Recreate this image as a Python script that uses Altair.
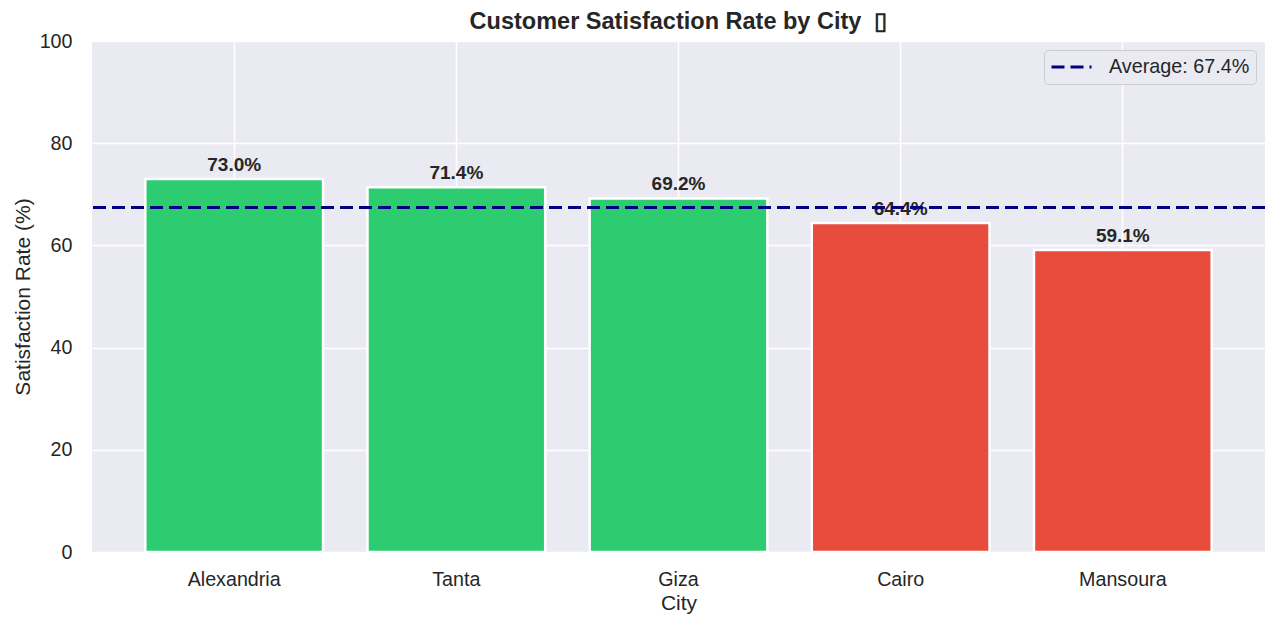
import altair as alt
import pandas as pd

cities = ["Alexandria", "Tanta", "Giza", "Cairo", "Mansoura"]
rates = [73.0, 71.4, 69.2, 64.4, 59.1]
average = 67.4
above_color = "#2ecc71"
below_color = "#e74c3c"

df = pd.DataFrame({
    "City": cities,
    "Rate": rates,
    "Label": [f"{r:.1f}%" for r in rates],
    "Color": [above_color if r >= average else below_color for r in rates],
})
avg_df = pd.DataFrame({"Rate": [average], "Series": [f"Average: {average:.1f}%"]})

FONT = "Liberation Sans"
TXT = "#262626"

x_enc = alt.X(
    "City:N", sort=cities, title="City",
    scale=alt.Scale(paddingInner=0.2, paddingOuter=0.24),
    axis=alt.Axis(labelAngle=0, labelFontSize=19.7, labelPadding=33, labelBaseline="alphabetic",
                  titleFontSize=21, titleFontWeight="normal", titleY=57, titleBaseline="alphabetic",
                  tickSize=0, domain=False, grid=True, gridColor="white", gridWidth=1.5,
                  bandPosition=0.5, labelColor=TXT, titleColor=TXT, labelFont=FONT, titleFont=FONT),
)
y_enc = alt.Y(
    "Rate:Q", title="Satisfaction Rate (%)",
    scale=alt.Scale(domain=[0, 100], nice=False, zero=True),
    axis=alt.Axis(values=[0, 20, 40, 60, 80, 100], labelFontSize=19.7, labelPadding=20,
                  titleFontSize=21, titleFontWeight="normal", titleX=-62.5, titleY=255.5,
                  titleBaseline="alphabetic", tickSize=0, domain=False, grid=True,
                  gridColor="white", gridWidth=1.5, labelColor=TXT, titleColor=TXT,
                  labelFont=FONT, titleFont=FONT),
)

bars = alt.Chart(df).mark_bar(stroke="white", strokeWidth=2.5).encode(
    x=x_enc, y=y_enc, color=alt.Color("Color:N", scale=None)
)

labels = alt.Chart(df).mark_text(
    baseline="alphabetic", dy=-8, fontSize=19, fontWeight="bold", font=FONT, color=TXT
).encode(x=alt.X("City:N", sort=cities), y="Rate:Q", text="Label:N")

avg_line = alt.Chart(avg_df).mark_rule(strokeWidth=3, strokeDash=[13, 6]).encode(
    y="Rate:Q",
    color=alt.Color("Series:N", scale=alt.Scale(range=["#000080"]),
                    legend=alt.Legend(title=None, orient="top-right", offset=9,
                                      symbolType="stroke", symbolStrokeWidth=3,
                                      symbolDash=[13, 6], symbolSize=1600, clipHeight=22,
                                      labelFontSize=19.8, labelFont=FONT, labelColor=TXT,
                                      fillColor="#eaeaf2", strokeColor="#cccccc",
                                      cornerRadius=4, padding=6, labelOffset=16)),
)

chart = alt.layer(bars, labels, avg_line).resolve_scale(color="independent").properties(
    width=1173, height=511,
    title=alt.TitleParams("Customer Satisfaction Rate by City \u00a0\u25af", fontSize=23.5,
                          fontWeight="bold", font=FONT, color=TXT, offset=8, dy=10.5,
                          anchor="middle", frame="group"),
    autosize=alt.AutoSizeParams(type="none"),
    padding={"left": 84, "top": 33, "right": 6, "bottom": 69},
).configure(background="white").configure_view(fill="#eaeaf2", stroke=None)

chart.save("out.html", embed_options={"renderer": "svg", "actions": False})
